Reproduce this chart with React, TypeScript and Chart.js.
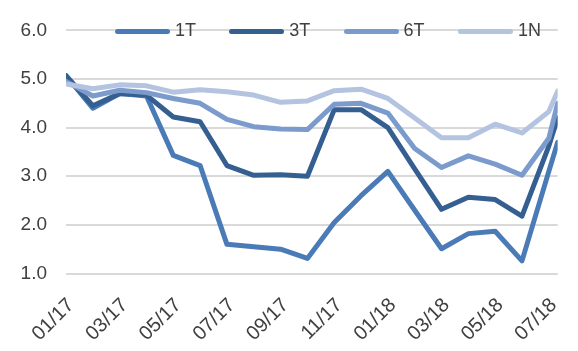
import React, { useEffect, useRef } from 'react';
import { Chart, registerables } from 'chart.js';

Chart.register(...registerables);

// Month labels of the category axis (one per month)
const monthLabels = [
  '01/17', '02/17', '03/17', '04/17', '05/17', '06/17', '07/17', '08/17', '09/17', '10/17',
  '11/17', '12/17', '01/18', '02/18', '03/18', '04/18', '05/18', '06/18', '07/18',
];
// Observation time, in months since 01/17 (last observation falls mid-month)
const obsMonth = [0, 1, 2, 3, 4, 5, 6, 7, 8, 9, 10, 11, 12, 13, 14, 15, 16, 17, 18, 18.33];

const seriesNames = ['1T', '3T', '6T', '1N'];
const values1T = [5.07, 4.4, 4.7, 4.65, 3.43, 3.22, 1.6, 1.55, 1.5, 1.31, 2.05, 2.6, 3.1, 2.3, 1.51, 1.82, 1.87, 1.26, 3.1, 3.7];
const values3T = [5.07, 4.45, 4.7, 4.67, 4.22, 4.12, 3.22, 3.02, 3.03, 3.0, 4.37, 4.37, 4.0, 3.15, 2.32, 2.57, 2.52, 2.18, 3.62, 4.2];
const values6T = [4.95, 4.65, 4.77, 4.72, 4.6, 4.5, 4.17, 4.02, 3.97, 3.96, 4.48, 4.5, 4.3, 3.57, 3.18, 3.42, 3.25, 3.02, 3.78, 4.5];
const values1N = [4.9, 4.8, 4.88, 4.86, 4.73, 4.78, 4.74, 4.67, 4.52, 4.55, 4.76, 4.79, 4.6, 4.2, 3.79, 3.79, 4.07, 3.89, 4.33, 4.75];

const yTicks = [1, 2, 3, 4, 5, 6];

const colors = ['#4a7bb7', '#365f91', '#7b9bcc', '#b3c3e0'];
const allValues = [values1T, values3T, values6T, values1N];

const FONT = "'Liberation Sans', Arial, sans-serif";
const TEXT = '#404040';

export default function App() {
  const ref = useRef<HTMLCanvasElement | null>(null);

  useEffect(() => {
    if (!ref.current) return;
    const datasets = seriesNames.map((name, si) => ({
      label: name,
      data: allValues[si].map((v, i) => ({ x: obsMonth[i], y: v })),
      borderColor: colors[si],
      backgroundColor: colors[si],
      borderWidth: 5,
      borderCapStyle: 'round' as const,
      borderJoinStyle: 'round' as const,
      pointRadius: 0,
      tension: 0,
      fill: false,
      order: seriesNames.length - si,
    }));

    const chart = new Chart(ref.current, {
      type: 'line',
      data: { datasets },
      options: {
        animation: false,
        responsive: false,
        devicePixelRatio: 1,
        layout: { padding: { top: 25, right: 12, left: 0, bottom: 0 } },
        plugins: {
          tooltip: { enabled: false },
          legend: { display: false },
        },
        scales: {
          x: {
            type: 'linear',
            min: 0,
            max: obsMonth[obsMonth.length - 1],
            grid: { display: false },
            border: { display: false },
            afterBuildTicks: (scale: any) => {
              scale.ticks = monthLabels
                .map((_, i) => ({ value: i }))
                .filter((t) => t.value % 2 === 0);
            },
            afterFit: (scale: any) => {
              scale.height = 351 - 273.5;
            },
            ticks: {
              autoSkip: false,
              minRotation: 45,
              maxRotation: 45,
              padding: 12,
              labelOffset: 5,
              color: TEXT,
              font: { family: FONT, size: 20 },
              callback: (v: any) => monthLabels[Math.round(Number(v))] ?? '',
            },
          },
          y: {
            min: yTicks[0],
            max: yTicks[yTicks.length - 1],
            afterBuildTicks: (scale: any) => {
              scale.ticks = yTicks.map((v) => ({ value: v }));
            },
            afterFit: (scale: any) => {
              scale.width = 66;
            },
            grid: { color: '#d9d9d9', lineWidth: 2, drawTicks: false },
            border: { display: false },
            ticks: {
              padding: 19,
              color: TEXT,
              font: { family: FONT, size: 19 },
              callback: (v: any) => Number(v).toFixed(1),
            },
          },
        },
      },
    } as any);
    return () => chart.destroy();
  }, []);

  return (
    <div style={{ position: 'absolute', left: 0, top: 0, width: 578, height: 351, background: '#fff' }}>
      <canvas ref={ref} width={578} height={351} style={{ display: 'block' }} />
      {seriesNames.map((name, i) => (
        <div key={name}>
          <div
            style={{
              position: 'absolute',
              left: 115 + i * 114.3,
              top: 28.5,
              width: 55,
              height: 5,
              borderRadius: 2.5,
              background: colors[i],
            }}
          />
          <div
            style={{
              position: 'absolute',
              left: 175 + i * 114.3,
              top: 21,
              fontFamily: FONT,
              fontSize: 18,
              lineHeight: '18px',
              color: TEXT,
              whiteSpace: 'nowrap',
            }}
          >
            {name}
          </div>
        </div>
      ))}
    </div>
  );
}
